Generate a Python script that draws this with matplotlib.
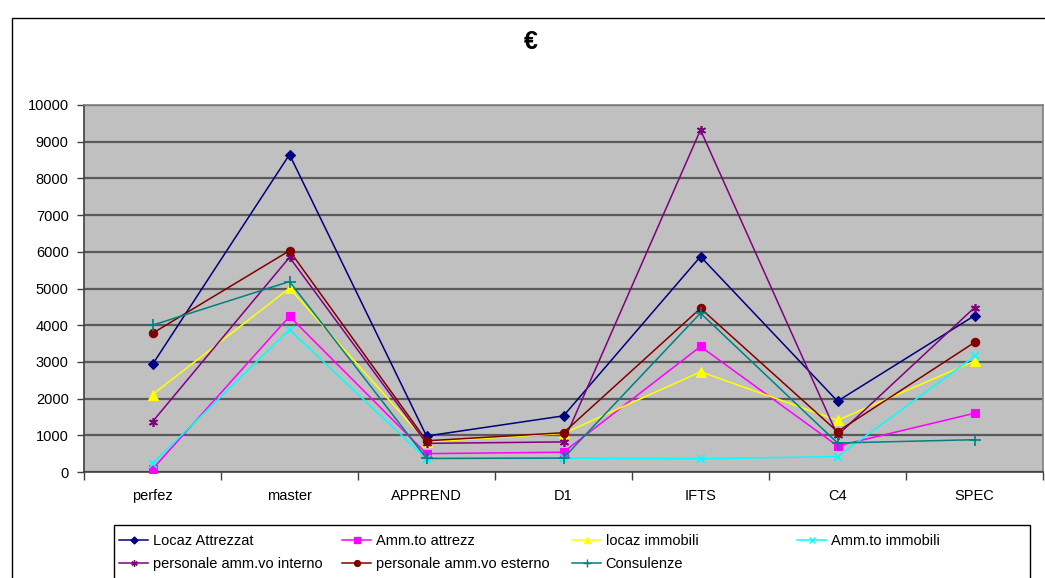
import matplotlib
matplotlib.use("Agg")
import matplotlib.pyplot as plt
from matplotlib.patches import Rectangle
from matplotlib.lines import Line2D

plt.rcParams['font.family'] = ['Liberation Sans', 'DejaVu Sans']

categories = ["perfez", "master", "APPREND", "D1", "IFTS", "C4", "SPEC"]

locaz_attrezzat = [2930, 8650, 980, 1530, 5870, 1930, 4260]
amm_attrezz = [80, 4240, 500, 540, 3420, 710, 1600]
locaz_immobili = [2110, 5010, 820, 1050, 2730, 1410, 3020]
amm_immobili = [230, 3880, 360, 380, 360, 420, 3150]
pers_interno = [1370, 5850, 780, 820, 9320, 1000, 4480]
pers_esterno = [3780, 6030, 850, 1070, 4460, 1100, 3530]
consulenze = [4000, 5190, 370, 380, 4330, 790, 880]

series = [
    ("Locaz Attrezzat", locaz_attrezzat, "#000080", "D", 5),
    ("Amm.to attrezz", amm_attrezz, "#FF00FF", "s", 6),
    ("locaz immobili", locaz_immobili, "#FFFF00", "^", 7),
    ("Amm.to immobili", amm_immobili, "#00FFFF", "x", 6),
    ("personale amm.vo interno", pers_interno, "#800080", (6, 2, 0), 6.5),
    ("personale amm.vo esterno", pers_esterno, "#800000", "o", 6),
    ("Consulenze", consulenze, "#008080", "+", 8),
]

W, H = 1045, 578
fig = plt.figure(figsize=(W / 100, H / 100), dpi=100)

# outer chart frame
fig.patches.append(Rectangle((12 / W, -0.1), 1.2, 1 - 18 / H + 0.1,
                             transform=fig.transFigure, fill=False,
                             edgecolor="black", linewidth=1.0))

ax = fig.add_axes([84 / W, 1 - 472 / H, (1043 - 84) / W, (472 - 105) / H])
ax.set_facecolor("#C0C0C0")

x = list(range(len(categories)))
for name, vals, color, marker, ms in series:
    ax.plot(x, vals, color=color, linewidth=1.1, marker=marker, markersize=ms,
            markeredgewidth=1.2 if marker in ("x", "+", (6, 2, 0)) else 0.8,
            markeredgecolor=color, markerfacecolor=color, label=name,
            clip_on=False, zorder=3)

ax.set_xlim(-0.5, len(categories) - 0.5)
ax.set_ylim(0, 10000)
ax.set_yticks(range(0, 10001, 1000))
ax.yaxis.grid(True, color="#5a5a5a", linewidth=1.6, zorder=1)
ax.set_axisbelow(True)

# category labels centred, tick marks at category boundaries
ax.set_xticks([i - 0.5 for i in range(len(categories) + 1)])
ax.set_xticklabels([])
ax.set_xticks(x, minor=True)
ax.set_xticklabels(categories, minor=True, fontsize=10.5)
ax.tick_params(axis="x", which="major", direction="out", length=6, width=1,
               color="#404040")
ax.tick_params(axis="x", which="minor", length=0, pad=12)
ax.tick_params(axis="y", direction="out", length=5, width=1, color="#404040",
               labelsize=10.5, pad=6)

for side in ("left", "bottom"):
    ax.spines[side].set_color("#404040")
    ax.spines[side].set_linewidth(1.2)
for side in ("top", "right"):
    ax.spines[side].set_color("#808080")
    ax.spines[side].set_linewidth(1.2)

fig.text(531 / W, 1 - 42 / H, "€", ha="center", va="center",
         fontsize=18, fontweight="bold")

# legend: boxed, four equally spaced columns
fig.patches.append(Rectangle((114 / W, -0.1), (1030 - 114) / W,
                             0.1 + 1 - 525 / H, transform=fig.transFigure,
                             fill=False, edgecolor="black", linewidth=1.0))
col_x = [119, 342, 572, 797]
for c in range(4):
    items = [series[i] for i in (c, c + 4) if i < len(series)]
    handles = [Line2D([], [], color=s[2], marker=s[3], markersize=s[4] * 0.7,
                      markeredgecolor=s[2], markerfacecolor=s[2],
                      linewidth=1.1, markeredgewidth=1.0) for s in items]
    fig.legend(handles, [s[0] for s in items], loc="upper left",
               bbox_to_anchor=(col_x[c] / W, 1 - 534 / H),
               frameon=False, fontsize=10.5, handlelength=2.0,
               handletextpad=0.3, labelspacing=0.6, borderpad=0.0,
               borderaxespad=0.0)

fig.savefig("out.png", dpi=100)
